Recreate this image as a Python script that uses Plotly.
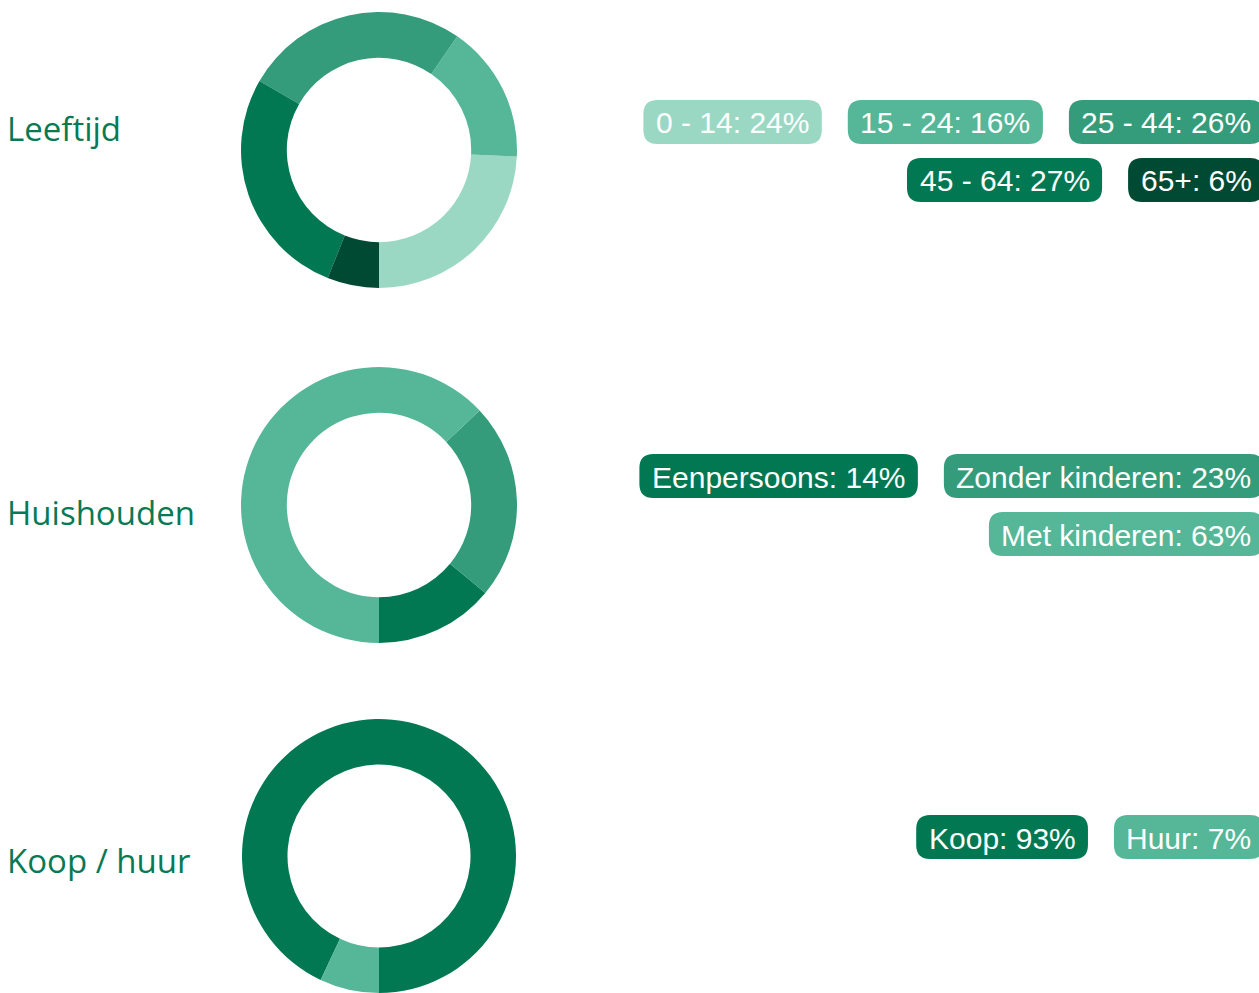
import plotly.graph_objects as go

# ---------------- data ----------------
titles = ["Leeftijd", "Huishouden", "Koop / huur"]

age_labels = ["0 - 14", "15 - 24", "25 - 44", "45 - 64", "65+"]
age_values = [24, 16, 26, 27, 6]
age_colors = ["#9AD8C4", "#55B797", "#349C7A", "#027852", "#004A34"]

hh_labels = ["Eenpersoons", "Zonder kinderen", "Met kinderen"]
hh_values = [14, 23, 63]
hh_colors = ["#027852", "#349C7A", "#55B797"]

own_labels = ["Koop", "Huur"]
own_values = [93, 7]
own_colors = ["#027852", "#55B797"]

groups = [
    (age_labels, age_values, age_colors),
    (hh_labels, hh_values, hh_colors),
    (own_labels, own_values, own_colors),
]

# ---------------- layout helpers ----------------
W, H = 1259, 993
def px(x):
    return x / W
def py(y):
    return 1 - y / H

# donut boxes in pixels (left, top, right, bottom)
donut_boxes = [(241, 12, 517, 288), (241, 367, 517, 643), (241, 719, 517, 993)]
title_y = [128, 512, 860]
pill_start_y = [122, 476, 837]  # centre of first pill row

ARIAL = {
    '0': 556, '1': 556, '2': 556, '3': 556, '4': 556, '5': 556, '6': 556, '7': 556,
    '8': 556, '9': 556, ' ': 278, '-': 333, ':': 278, '%': 889, '+': 584,
    'E': 667, 'Z': 611, 'M': 833, 'K': 667, 'H': 722,
    'e': 556, 'n': 556, 'p': 556, 'r': 333, 's': 500, 'o': 556, 'd': 556,
    'k': 500, 'i': 222, 't': 278, 'u': 556,
}
FS = 30
def text_w(s):
    return sum(ARIAL.get(c, 556) for c in s) / 1000 * FS

PAD = 12.5
GAP = 26
PILL_H = 44
ROW_STEP = 58
RIGHT = 1264
MAXW = 630
RAD = 14

def rounded_path(x0, y0, x1, y1, r):
    pts = [
        f"M {px(x0 + r)} {py(y0)}",
        f"L {px(x1 - r)} {py(y0)}",
        f"Q {px(x1)} {py(y0)} {px(x1)} {py(y0 + r)}",
        f"L {px(x1)} {py(y1 - r)}",
        f"Q {px(x1)} {py(y1)} {px(x1 - r)} {py(y1)}",
        f"L {px(x0 + r)} {py(y1)}",
        f"Q {px(x0)} {py(y1)} {px(x0)} {py(y1 - r)}",
        f"L {px(x0)} {py(y0 + r)}",
        f"Q {px(x0)} {py(y0)} {px(x0 + r)} {py(y0)}",
        "Z",
    ]
    return " ".join(pts)

fig = go.Figure()
shapes = []
annotations = []

for gi, (labels, values, colors) in enumerate(groups):
    l, t, r, b = donut_boxes[gi]
    # plotly places the first counterclockwise slice clockwise of `rotation`,
    # so shift by its angle to make the first slice start at 6 o'clock.
    first_angle = 360.0 * values[0] / sum(values)
    rot = (180.0 - first_angle) % 360
    fig.add_trace(go.Pie(
        labels=labels, values=values, hole=0.668, sort=False,
        direction="counterclockwise", rotation=rot,
        marker=dict(colors=colors, line=dict(width=0)),
        textinfo="none", hoverinfo="skip", showlegend=False,
        domain=dict(x=[px(l), px(r)], y=[max(0, py(b)), py(t)]),
    ))
    annotations.append(dict(
        x=px(5), y=py(title_y[gi]), xref="paper", yref="paper",
        xanchor="left", yanchor="middle", showarrow=False,
        text=titles[gi], font=dict(family="Open Sans", size=33, color="#077A55"),
    ))
    # flow pills into rows, right aligned
    texts = [f"{lab}: {v}%" for lab, v in zip(labels, values)]
    widths = [text_w(s) + 2 * PAD for s in texts]
    rows, cur, curw = [], [], 0
    for i, w in enumerate(widths):
        add = w if not cur else w + GAP
        if cur and curw + add > MAXW:
            rows.append(cur)
            cur, curw = [i], w
        else:
            cur.append(i)
            curw += add
    if cur:
        rows.append(cur)
    for ri, row in enumerate(rows):
        cy = pill_start_y[gi] + ri * ROW_STEP
        total = sum(widths[i] for i in row) + GAP * (len(row) - 1)
        x = RIGHT - total
        for i in row:
            x0, x1 = x, x + widths[i]
            shapes.append(dict(
                type="path", xref="paper", yref="paper",
                path=rounded_path(x0, cy - PILL_H / 2, x1, cy + PILL_H / 2, RAD),
                fillcolor=colors[i], line=dict(width=0), layer="below",
            ))
            annotations.append(dict(
                x=px((x0 + x1) / 2), y=py(cy + 1), xref="paper", yref="paper",
                xanchor="center", yanchor="middle", showarrow=False,
                text=texts[i], font=dict(family="Liberation Sans, Arial", size=FS, color="white"),
            ))
            x = x1 + GAP

fig.update_layout(
    width=W, height=H, margin=dict(l=0, r=0, t=0, b=0),
    paper_bgcolor="white", plot_bgcolor="white",
    shapes=shapes, annotations=annotations,
)
fig.write_html("out.html", config={"displayModeBar": False})
